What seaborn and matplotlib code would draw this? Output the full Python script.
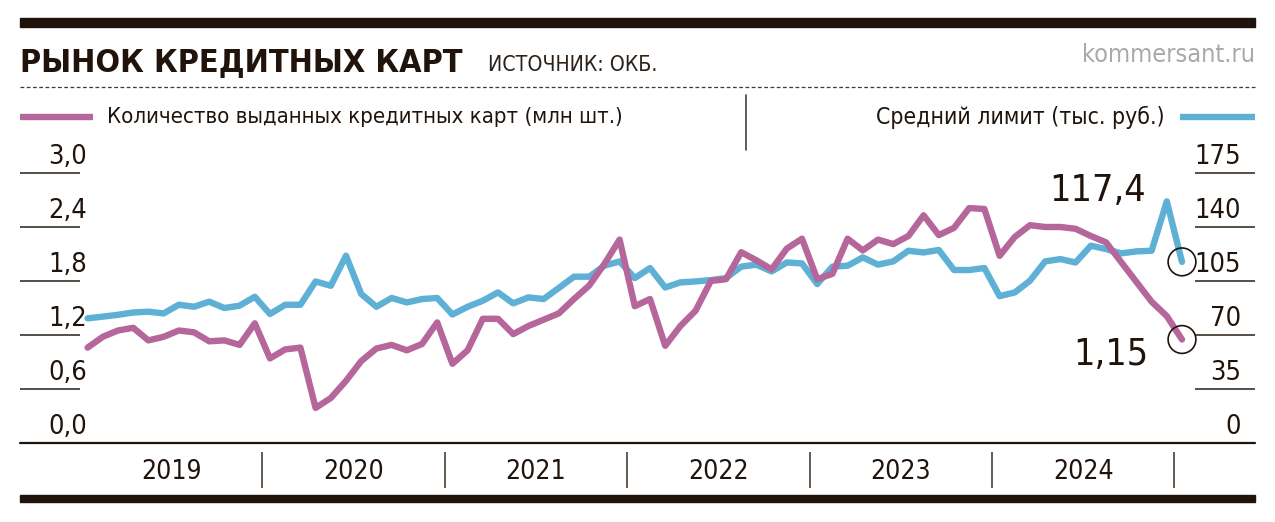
import matplotlib
matplotlib.use("Agg")
import matplotlib.pyplot as plt
from matplotlib.lines import Line2D
from matplotlib.patches import Rectangle
from matplotlib import font_manager as fm
import seaborn as sns
import pandas as pd
import numpy as np

# ---------------- data ----------------
years = ["2019", "2020", "2021", "2022", "2023", "2024"]
cards_mln = [1.06, 1.18, 1.25, 1.28, 1.14, 1.18, 1.25, 1.23, 1.13, 1.14, 1.09, 1.33,
             0.94, 1.04, 1.06, 0.39, 0.50, 0.69, 0.91, 1.05, 1.09, 1.03, 1.10, 1.34,
             0.88, 1.03, 1.38, 1.38, 1.21, 1.30, 1.37, 1.44, 1.60, 1.75, 1.99, 2.26,
             1.52, 1.60, 1.08, 1.30, 1.47, 1.80, 1.82, 2.12, 2.03, 1.93, 2.16, 2.27,
             1.82, 1.88, 2.27, 2.14, 2.26, 2.21, 2.30, 2.53, 2.31, 2.39, 2.61, 2.60,
             2.08, 2.29, 2.42, 2.40, 2.40, 2.38, 2.30, 2.23, 2.01, 1.79, 1.57, 1.41,
             1.15]
avg_limit = [80.8, 81.9, 83.1, 84.6, 85.1, 84.0, 89.6, 88.3, 91.6, 87.5, 89.0, 94.8,
             83.6, 89.6, 89.6, 104.7, 101.9, 121.4, 96.6, 88.3, 94.0, 91.1, 93.3, 94.0,
             83.3, 88.3, 92.2, 97.6, 90.5, 94.4, 93.3, 100.5, 107.8, 107.8, 114.9, 117.7,
             106.9, 113.4, 100.8, 104.1, 104.7, 105.6, 106.9, 114.3, 115.6, 111.2, 117.0, 116.4,
             103.0, 114.3, 114.9, 120.3, 115.6, 117.7, 124.6, 123.5, 125.1, 112.1, 112.1, 113.4,
             95.2, 97.6, 105.2, 117.7, 119.2, 117.0, 127.9, 125.7, 122.9, 124.2, 124.6, 156.6,
             117.4]
left_ticks = [0.0, 0.6, 1.2, 1.8, 2.4, 3.0]
left_labels = ["0,0", "0,6", "1,2", "1,8", "2,4", "3,0"]
right_ticks = [0, 35, 70, 105, 140, 175]
right_labels = ["0", "35", "70", "105", "140", "175"]
title = "РЫНОК КРЕДИТНЫХ КАРТ"
source = "ИСТОЧНИК: ОКБ."
site = "kommersant.ru"
legend_left = "Количество выданных кредитных карт (млн шт.)"
legend_right = "Средний лимит (тыс. руб.)"
last_left_label = "1,15"
last_right_label = "117,4"

df = pd.DataFrame({"month": np.arange(len(cards_mln)),
                   "cards": cards_mln, "limit": avg_limit})

# ---------------- style ----------------
sns.set_theme(style="white")
names = {f.name for f in fm.fontManager.ttflist}
if "Liberation Sans Narrow" in names:
    NARROW = fm.FontProperties(family=["Liberation Sans Narrow", "DejaVu Sans"])
else:
    NARROW = fm.FontProperties(family=["DejaVu Sans"], stretch="condensed")
TITLE_FP = fm.FontProperties(family=["DejaVu Sans"], stretch="condensed", weight="bold")
plt.rcParams["font.family"] = ["DejaVu Sans"]

PINK = "#b5669a"
BLUE = "#5eb0d5"
DARK = "#1f130b"
RULE = "#4a4036"

W, H = 1275, 522
fig = plt.figure(figsize=(W / 100, H / 100), dpi=100)
fig.patch.set_facecolor("white")
renderer = fig.canvas.get_renderer()


def fx(px):
    return px / W


def fy(py):
    return 1 - py / H


def fp_of(size, base=None):
    fp = (base or NARROW).copy()
    fp.set_size(size)
    return fp


def fit(t, target_px):
    for _ in range(3):
        w = t.get_window_extent(renderer).width
        if w > 0:
            t.set_fontsize(t.get_fontsize() * target_px / w)
    return t


# axes: x from px 20 to 1255, y value 0 at px 443, 3.0 at px 173
ax = fig.add_axes([fx(20), fy(443), fx(1255) - fx(20), fy(173) - fy(443)])
ax2 = ax.twinx()

LW = 4.6
sns.lineplot(data=df, x="month", y="cards", ax=ax, color=PINK, linewidth=LW, zorder=3)
sns.lineplot(data=df, x="month", y="limit", ax=ax2, color=BLUE, linewidth=LW, zorder=2)
ax.set_zorder(ax2.get_zorder() + 1)
ax.patch.set_visible(False)

x_left = (20 - 87.6) / 15.2
x_right = (1255 - 87.6) / 15.2
for a in (ax, ax2):
    a.set_xlim(x_left, x_right)
    for s in a.spines.values():
        s.set_visible(False)
    a.set_xlabel("")
    a.set_ylabel("")
    a.set_xticks([])
    a.set_yticks([])
ax.set_ylim(0, 3.0)
ax2.set_ylim(0, 175)

# tick rules and labels
TICK_FS = 19.5
ytr = ax.get_yaxis_transform()
ax.hlines(left_ticks[1:], 0, 60 / 1235, transform=ytr, color=RULE, lw=1.3, clip_on=False)
for v, lab in zip(left_ticks, left_labels):
    ax.text(48 / 1235, v + 0.03, lab, transform=ytr, ha="center", va="bottom",
            fontproperties=fp_of(TICK_FS), color=DARK)
ytr2 = ax2.get_yaxis_transform()
ax2.hlines(right_ticks[1:], 1175 / 1235, 1.0, transform=ytr2, color=RULE, lw=1.3, clip_on=False)
for v, lab in zip(right_ticks, right_labels):
    ax2.text(1221 / 1235, v + 1.7, lab, transform=ytr2, ha="right", va="bottom",
             fontproperties=fp_of(TICK_FS), color=DARK)

# baseline
ax.axhline(0, color=DARK, lw=1.6, clip_on=False)

# year separators and labels
xtr = ax.get_xaxis_transform()
for k, yr in enumerate(years):
    ax.text(5.5 + 12 * k, -29 / 270, yr, transform=xtr, ha="center", va="center",
            fontproperties=fp_of(19), color=DARK)
    ax.vlines(11.5 + 12 * k, -9 / 270, -45 / 270, transform=xtr, color=RULE,
              lw=1.2, clip_on=False)

# end markers
last = len(cards_mln) - 1
ax.scatter([last], [cards_mln[-1]], s=20 ** 2, facecolors="none", edgecolors=DARK,
           linewidths=1.2, zorder=5, clip_on=False)
ax2.scatter([last], [avg_limit[-1]], s=20 ** 2, facecolors="none", edgecolors=DARK,
            linewidths=1.2, zorder=5, clip_on=False)
ax.annotate(last_left_label, (last, cards_mln[-1]), xytext=(-24, -11),
            textcoords="offset points", ha="right", va="center",
            fontproperties=fp_of(27), color=DARK)
ax2.annotate(last_right_label, (last, avg_limit[-1]), xytext=(-26, 51),
             textcoords="offset points", ha="right", va="center",
             fontproperties=fp_of(27), color=DARK)

# ---------------- header ----------------
fig.patches.append(Rectangle((fx(20), fy(27)), fx(1255) - fx(20), 9 / H,
                             transform=fig.transFigure, color=DARK, zorder=5))
fig.patches.append(Rectangle((fx(20), fy(502)), fx(1255) - fx(20), 7 / H,
                             transform=fig.transFigure, color=DARK, zorder=5))
t = fig.text(fx(20), fy(71), title, fontproperties=fp_of(30, TITLE_FP),
             ha="left", va="baseline", color=DARK)
fit(t, 443)
t = fig.text(fx(488), fy(71), source, fontproperties=fp_of(17),
             ha="left", va="baseline", color="#2b2118")
fit(t, 170)
t = fig.text(fx(1255), fy(62), site, fontproperties=fp_of(19),
             ha="right", va="baseline", color="#a9a9a9")
fit(t, 173)
fig.add_artist(Line2D([fx(20), fx(1255)], [fy(87), fy(87)], transform=fig.transFigure,
                      color="#3a3a3a", lw=0.9, linestyle=(0, (3, 2))))

# legend
fig.add_artist(Line2D([fx(20), fx(93)], [fy(117), fy(117)], transform=fig.transFigure,
                      color=PINK, lw=LW, solid_capstyle="butt"))
t = fig.text(fx(107), fy(117), legend_left, fontproperties=fp_of(19),
             ha="left", va="center", color=DARK)
fit(t, 518)
fig.add_artist(Line2D([fx(746), fx(746)], [fy(95), fy(150)], transform=fig.transFigure,
                      color=RULE, lw=1.2))
t = fig.text(fx(1165), fy(117), legend_right, fontproperties=fp_of(19),
             ha="right", va="center", color=DARK)
fit(t, 289)
fig.add_artist(Line2D([fx(1180), fx(1255)], [fy(117), fy(117)], transform=fig.transFigure,
                      color=BLUE, lw=LW, solid_capstyle="butt"))

fig.savefig("out.png", dpi=100, facecolor="white")
